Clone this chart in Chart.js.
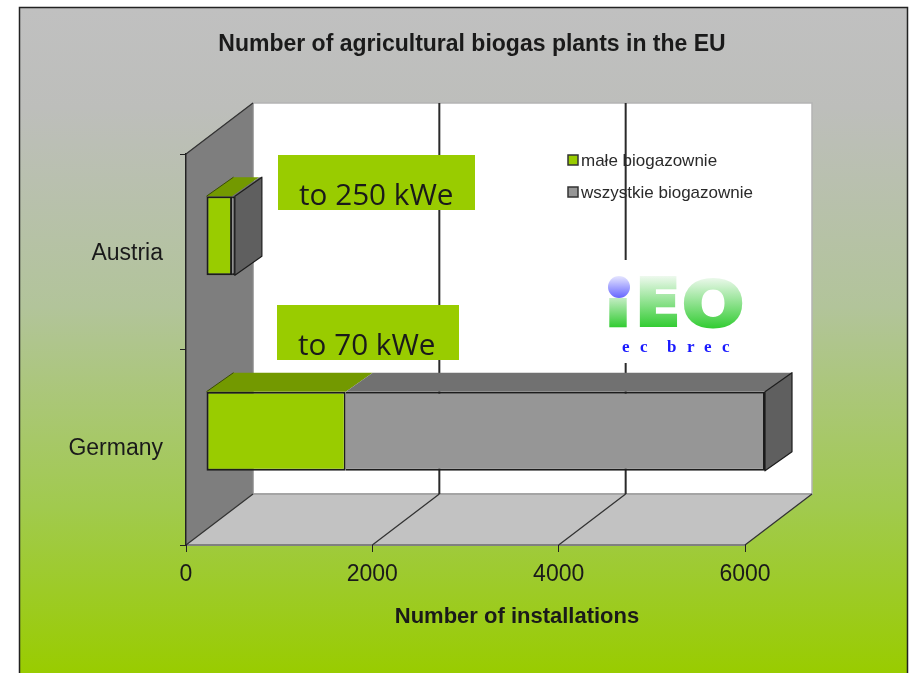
<!DOCTYPE html>
<html>
<head>
<meta charset="utf-8">
<title>Number of agricultural biogas plants in the EU</title>
<script src="https://cdn.jsdelivr.net/npm/chart.js@4"></script>
<style>
html, body { margin: 0; padding: 0; background: #fff; overflow: hidden; }
canvas { display: block; }
</style>
</head>
<body>
<canvas id="myChart" width="912" height="673"></canvas>
<script>
var chartTitle = 'Number of agricultural biogas plants in the EU';
var axisTitle = 'Number of installations';
var categories = ['Austria', 'Germany'];
var seriesNames = ['małe biogazownie', 'wszystkie biogazownie'];
var smallPlants = [280, 1500];
var otherPlants = [30, 4500];
var xTicks = [0, 2000, 4000, 6000];

// fake 3d: how far the back wall sits from the front plane, and the bars inside that
var WALL = { x: 67, y: -51 };
var BAR_SHIFT = { x: 20, y: -16 };
var BAR_DEPTH = { x: 27, y: -19 };

var FRONT = ['#99cc00', '#969696'];
var TOPS = ['#739900', '#717171'];
var SIDES = ['#5f5f5f', '#5f5f5f'];
var EDGE = '#1c1c1c';
var TEXT = '#1a1a1a';

function poly(ctx, pts, fill, stroke, lw) {
  ctx.beginPath();
  ctx.moveTo(pts[0][0], pts[0][1]);
  for (var i = 1; i < pts.length; i++) ctx.lineTo(pts[i][0], pts[i][1]);
  ctx.closePath();
  if (fill) { ctx.fillStyle = fill; ctx.fill(); }
  if (stroke) { ctx.strokeStyle = stroke; ctx.lineWidth = lw || 1; ctx.stroke(); }
}

function label(ctx, str, x, y, font, color, align) {
  ctx.font = font;
  ctx.fillStyle = color;
  ctx.textAlign = align || 'left';
  ctx.textBaseline = 'alphabetic';
  ctx.fillText(str, x, y);
}

// background panel, walls, floor and gridlines
var backdrop = {
  id: 'backdrop',
  beforeDraw: function (chart) {
    var ctx = chart.ctx, a = chart.chartArea, xs = chart.scales.x;
    ctx.save();
    var g = ctx.createLinearGradient(0, 8, 0, 673);
    g.addColorStop(0, '#c0c0c0');
    g.addColorStop(0.15, '#bdbebb');
    g.addColorStop(0.45, '#b2c49a');
    g.addColorStop(0.75, '#a1ca4e');
    g.addColorStop(1, '#99cc00');
    ctx.fillStyle = g;
    ctx.fillRect(19, 7, 888, 666);
    ctx.strokeStyle = '#222';
    ctx.lineWidth = 1.5;
    ctx.beginPath();
    ctx.moveTo(19.5, 673);
    ctx.lineTo(19.5, 7.5);
    ctx.lineTo(907.5, 7.5);
    ctx.lineTo(907.5, 673);
    ctx.stroke();

    var l = a.left, r = a.right, t = a.top, b = a.bottom;
    var bl = l + WALL.x, br = r + WALL.x, bt = t + WALL.y, bb = b + WALL.y;
    poly(ctx, [[bl, bt], [br, bt], [br, bb], [bl, bb]], '#ffffff', '#b4b4b4', 1.5);
    poly(ctx, [[l, t], [bl, bt], [bl, bb], [l, b]], '#7e7e7e', '#8c8c8c', 1);
    poly(ctx, [[l, b], [r, b], [br, bb], [bl, bb]], '#c2c2c2', null);
    ctx.strokeStyle = '#9a9a9a';
    ctx.lineWidth = 1.5;
    ctx.beginPath();
    ctx.moveTo(bl, bb); ctx.lineTo(br, bb);
    ctx.stroke();
    ctx.strokeStyle = '#808080';
    ctx.lineWidth = 2;
    ctx.beginPath();
    ctx.moveTo(l, b); ctx.lineTo(r, b);
    ctx.stroke();

    ctx.strokeStyle = '#333';
    ctx.lineWidth = 1.3;
    ctx.beginPath();
    ctx.moveTo(l, t); ctx.lineTo(bl, bt);
    ctx.moveTo(l, b); ctx.lineTo(bl, bb);
    ctx.moveTo(r, b); ctx.lineTo(br, bb);
    xTicks.forEach(function (v) {
      if (v === 0 || v === 6000) return;
      var x = xs.getPixelForValue(v);
      ctx.moveTo(x, b);
      ctx.lineTo(x + WALL.x, bb);
    });
    ctx.stroke();
    ctx.lineWidth = 2;
    ctx.strokeStyle = '#2a2a2a';
    ctx.beginPath();
    xTicks.forEach(function (v) {
      if (v === 0 || v === 6000) return;
      var x = xs.getPixelForValue(v) + WALL.x;
      ctx.moveTo(x, bb);
      ctx.lineTo(x, bt);
    });
    ctx.stroke();
    ctx.restore();
  },
  beforeDatasetsDraw: function (chart) {
    chart.ctx.save();
    chart.ctx.translate(BAR_SHIFT.x, BAR_SHIFT.y);
  },
  afterDatasetsDraw: function (chart) {
    chart.ctx.restore();
    drawFaces(chart);
    drawOverlay(chart);
  }
};

// top and side faces of the bars, taken from the bar elements
function drawFaces(chart) {
  var ctx = chart.ctx;
  var dx = BAR_DEPTH.x, dy = BAR_DEPTH.y;
  ctx.save();
  ctx.translate(BAR_SHIFT.x, BAR_SHIFT.y);
  ctx.lineJoin = 'round';
  categories.forEach(function (c, j) {
    var last = null, first = null;
    seriesNames.forEach(function (n, i) {
      var bar = chart.getDatasetMeta(i).data[j];
      var top = bar.y - bar.height / 2, x0 = bar.base, x1 = bar.x;
      poly(ctx, [[x0, top], [x1, top], [x1 + dx, top + dy], [x0 + dx, top + dy]], TOPS[i], null);
      if (!first) first = { x: x0, top: top };
      last = { x: x1, top: top, bot: top + bar.height, i: i };
    });
    poly(ctx, [[last.x, last.top], [last.x + dx, last.top + dy], [last.x + dx, last.bot + dy], [last.x, last.bot]], SIDES[last.i], EDGE, 1.2);
    ctx.strokeStyle = '#3a4d00';
    ctx.lineWidth = 1;
    ctx.beginPath();
    ctx.moveTo(first.x, first.top);
    ctx.lineTo(first.x + dx, first.top + dy);
    ctx.stroke();
  });
  ctx.restore();
}

function drawLogo(ctx) {
  ctx.save();
  ctx.fillStyle = '#ffffff';
  ctx.fillRect(592, 260, 168, 103);

  ctx.textAlign = 'left';
  ctx.textBaseline = 'alphabetic';
  ctx.lineJoin = 'miter';

  // stem of the i, the dot is drawn separately because it is blue
  ctx.save();
  ctx.beginPath();
  ctx.rect(600, 298, 40, 32);
  ctx.clip();
  ctx.font = 'bold 62px "DejaVu Sans"';
  ctx.setTransform(1.6, 0, 0, 1, 609 - 0.08 * 62 * 1.6, 327);
  var stem = ctx.createLinearGradient(0, -30, 0, 0);
  stem.addColorStop(0, '#c8eec8');
  stem.addColorStop(1, '#33cc33');
  ctx.fillStyle = stem;
  ctx.fillText('i', 0, 0);
  ctx.restore();

  var d = ctx.createLinearGradient(0, 276, 0, 298);
  d.addColorStop(0, '#e6e6ff');
  d.addColorStop(1, '#6666ff');
  ctx.beginPath();
  ctx.arc(619, 287, 11, 0, Math.PI * 2);
  ctx.fillStyle = d;
  ctx.fill();

  // E and O, stroked as well as filled to get the heavy letters of the logo
  var eg = ctx.createLinearGradient(0, -49, 0, 2);
  eg.addColorStop(0, '#eef9ee');
  eg.addColorStop(1, '#33cc33');
  ctx.fillStyle = eg;
  ctx.strokeStyle = eg;

  ctx.font = 'bold 64px "DejaVu Sans"';
  ctx.lineWidth = 4;
  ctx.setTransform(1, 0, 0, 1, 636, 325);
  ctx.fillText('E', 0, 0);
  ctx.strokeText('E', 0, 0);

  ctx.font = 'bold 63px "DejaVu Sans"';
  ctx.lineWidth = 3;
  ctx.setTransform(1.16, 0, 0, 1, 682, 326);
  ctx.fillText('O', 0, 0);
  ctx.strokeText('O', 0, 0);
  ctx.setTransform(1, 0, 0, 1, 0, 0);

  ctx.font = 'bold 17px "Liberation Serif"';
  ctx.fillStyle = '#1a1aff';
  var letters = ['e', 'c', 'b', 'r', 'e', 'c'];
  var xs = [622, 640, 667, 687, 704, 722];
  letters.forEach(function (ch, i) { ctx.fillText(ch, xs[i], 352); });
  ctx.restore();
}

function drawOverlay(chart) {
  var ctx = chart.ctx;
  ctx.save();

  ctx.fillStyle = '#99cc00';
  ctx.fillRect(278, 155, 197, 55);
  ctx.fillRect(277, 305, 182, 55);
  label(ctx, 'to 250 kWe', 299, 205, '29.7px "Open Sans"', '#1a1a1a', 'left');
  label(ctx, 'to 70 kWe', 298, 355, '29.7px "Open Sans"', '#1a1a1a', 'left');

  // legend
  seriesNames.forEach(function (n, i) {
    var y = 155 + i * 32;
    ctx.fillStyle = FRONT[i];
    ctx.fillRect(568, y, 10, 10);
    ctx.strokeStyle = '#333';
    ctx.lineWidth = 1.5;
    ctx.strokeRect(568, y, 10, 10);
    label(ctx, n, 581, y + 11, '17px "Liberation Sans"', '#2a2a2a', 'left');
  });

  drawLogo(ctx);

  label(ctx, axisTitle, 517, 623, 'bold 22px "Liberation Sans"', TEXT, 'center');
  ctx.restore();
}

var ctx = document.getElementById('myChart').getContext('2d');
var chart = new Chart(ctx, {
  type: 'bar',
  data: {
    labels: categories,
    datasets: [
      { label: seriesNames[0], data: smallPlants, backgroundColor: FRONT[0], borderColor: EDGE, borderWidth: 2, borderSkipped: false },
      { label: seriesNames[1], data: otherPlants, backgroundColor: FRONT[1], borderColor: EDGE, borderWidth: { top: 2, right: 2, bottom: 2, left: 0 }, borderSkipped: false }
    ]
  },
  options: {
    indexAxis: 'y',
    responsive: false,
    animation: false,
    barPercentage: 0.405,
    categoryPercentage: 1,
    layout: { padding: { left: 0, right: 167, top: 0, bottom: 0 } },
    plugins: {
      legend: { display: false },
      tooltip: { enabled: false },
      title: {
        display: true,
        text: chartTitle,
        color: TEXT,
        font: { family: '"Liberation Sans"', size: 23, weight: 'bold', lineHeight: 1.2 },
        padding: { top: 31, bottom: 95.4 }
      }
    },
    scales: {
      x: {
        stacked: true,
        min: 0,
        max: 6000,
        afterBuildTicks: function (s) { s.ticks = xTicks.map(function (v) { return { value: v }; }); },
        afterFit: function (s) { s.height = 128; },
        grid: { drawOnChartArea: false, color: '#222', tickLength: 7, lineWidth: 1 },
        border: { display: false },
        ticks: {
          color: TEXT,
          font: { family: '"Liberation Sans"', size: 23 },
          padding: 9,
          maxRotation: 0,
          callback: function (v) { return String(v); }
        }
      },
      y: {
        stacked: true,
        afterFit: function (s) { s.width = 186; },
        grid: { drawOnChartArea: false, color: '#222', tickLength: 6, lineWidth: 1 },
        border: { display: true, color: '#222', width: 1.5 },
        ticks: { color: TEXT, font: { family: '"Liberation Sans"', size: 23 }, padding: 17, labelOffset: 1.5 }
      }
    }
  },
  plugins: [backdrop, {
    id: 'titleShift',
    afterLayout: function (chart) {
      // title sits over the whole panel, so centre it by hand
      chart.titleBlock.left = 199;
    }
  }]
});
</script>
</body>
</html>
